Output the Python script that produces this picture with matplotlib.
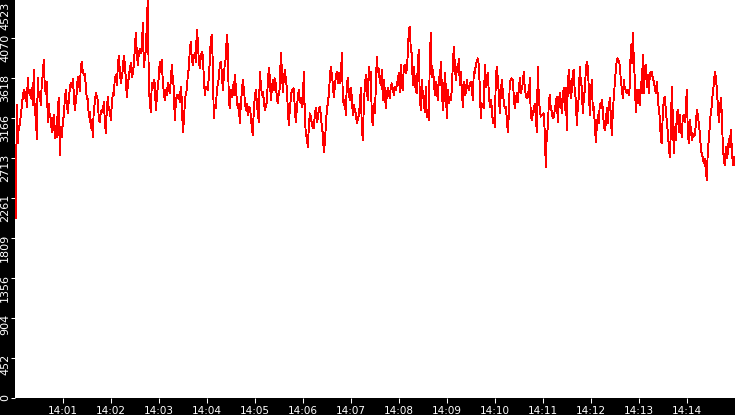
import numpy as np
import pandas as pd
import matplotlib
matplotlib.use("Agg")
import matplotlib.pyplot as plt
import matplotlib.dates as mdates
import matplotlib.transforms as mtransforms

# ---- data (one sample every 1.25 s from 14:00:01) ----
seg1 = [2032, 3312, 2879, 3068, 3086, 3199, 3301, 3407, 3482, 3388,
        3463, 3294, 3625, 3445, 3482, 3388, 3501, 3312, 3708, 3199,
        3199, 2924, 3625, 3407, 3426, 3312, 3558, 3663, 3822, 3520,
        3437, 3576, 3124, 3324, 3181, 3162, 3011, 3124, 3199, 2935,
        3075, 2947, 3301, 3388, 2747, 3068, 2955, 3113, 3199, 3369,
        3482, 3331, 3226, 3369, 3501, 3565, 3512, 3603, 3445, 3256,
        3350, 3463, 3633, 3565, 3475, 3746, 3803, 3689, 3652, 3663,
        3539, 3377, 3388, 3181, 3237, 3049, 3150, 2955, 3275, 3331,
        3452, 3414, 3369, 3150, 3124, 3226, 3256, 3237, 3350, 3143,
        2992, 3256, 3407, 3256, 3256, 3143, 3312, 3445, 3426, 3614,
        3652, 3539, 3746, 3867, 3708, 3558, 3625, 3708, 3867, 3784,
        3614, 3407, 3527, 3633, 3727, 3784, 3625, 3671, 3765, 3935,
        4123, 3916, 3765, 3897, 3953]
seg2 = [3897, 3935, 4236, 3746, 3840, 3935, 4236, 4510, 3558, 3331,
        3237, 3558, 3501, 3595, 3558, 3256, 3388, 3520, 3633, 3803,
        3689, 3822, 3576, 3463, 3369, 3482, 3426, 3558, 3512, 3445,
        3595, 3765, 3614, 3501, 3143, 3331, 3426, 3388, 3426, 3350,
        3520, 3369, 3011, 3113, 3331, 3445, 3482, 3652, 3727, 3935,
        4029, 3840, 3765, 3859, 3897, 3803, 4161, 4048, 3822, 3727,
        3859, 3916, 3878, 3633, 3426, 3520, 3501, 3482, 3633, 3803,
        4066, 4104, 3784, 3162, 3312, 3275, 3463, 3558, 3614, 3765,
        3803, 3689, 3482, 3633, 3784, 3840, 4104, 3972, 3369, 3275,
        3482, 3407, 3539, 3426, 3652, 3520, 3369, 3275, 3331, 3105,
        3312, 3463, 3595, 3501, 3369, 3256, 3331, 3199, 3294, 3275,
        3199, 3049, 2973, 3256, 3407, 3482, 3350, 3218, 3124, 3689]
seg3 = [3558, 3426, 3463, 3369, 3256, 3294, 3350, 3558, 3727, 3633,
        3369, 3482, 3595, 3482, 3614, 3558, 3407, 3331, 3445, 3501,
        3897, 3727, 3463, 3595, 3708, 3614, 3501, 3275, 3086, 3256,
        3388, 3482, 3490, 3501, 3275, 3124, 3256, 3407, 3482, 3350,
        3388, 3294, 3331, 3689, 3218, 2973, 2955, 2841, 3049, 3218,
        3181, 3105, 3049, 3049, 3199, 3275, 3124, 3162, 3256, 3294,
        3199, 3068, 2992, 2785, 2879, 3068, 3256, 3331, 3426, 3614,
        3746, 3652, 3558, 3407, 3520, 3633, 3689, 3558, 3671, 3558,
        3614, 3897, 3407, 3312, 3369, 3199, 3539, 3614, 3463, 3369,
        3501, 3407, 3199, 3312, 3256, 3218, 3105, 3143, 3199, 3312,
        3501, 3068, 2917, 3294, 3520, 3652, 3482, 3369, 3746, 3595,
        3689, 3181, 3086, 3331, 3218, 3501, 3859, 3689, 3727, 3576]
seg4 = [3539, 3708, 3369, 3595, 3482, 3275, 3426, 3501, 3445, 3388,
        3520, 3558, 3501, 3426, 3520, 3482, 3539, 3595, 3671, 3463,
        3765, 3539, 3482, 3746, 3765, 3671, 3708, 3897, 4161, 4198,
        3935, 3897, 3539, 3746, 3614, 3463, 3445, 3784, 3935, 3388,
        3256, 3595, 3445, 3350, 3237, 3520, 3181, 3256, 3143, 3822,
        4123, 3633, 3708, 3614, 3426, 3576, 3482, 3369, 3633, 3539,
        3803, 3539, 3256, 3388, 3671, 3520, 3162, 3482, 3331, 3407,
        3369, 3482, 3765, 3972, 3784, 3595, 3746, 3689, 3840, 3539,
        3689, 3482, 3294, 3576, 3426, 3445, 3595, 3520, 3482, 3558,
        3576, 3501, 3369, 3689, 3671, 3765, 3803, 3840, 3765, 3520,
        3162, 3331, 3294, 3275, 3765, 3520, 3633, 3671, 3463, 3294,
        3369, 3294, 3105, 3162, 3068, 3614, 3746, 3614, 3445, 3218]
seg5 = [3445, 3595, 3463, 3350, 3275, 3294, 3162, 3011, 3199, 3576,
        3595, 3614, 3595, 3407, 3275, 3369, 3445, 3350, 3482, 3614,
        3445, 3501, 3558, 3689, 3501, 3426, 3388, 3463, 3407, 3614,
        3181, 3143, 3218, 3275, 3331, 3162, 3011, 3746, 3407, 3256,
        3181, 3199, 3199, 3218, 2992, 2616, 2992, 3049, 3331, 3426,
        3275, 3237, 3162, 3181, 3256, 3331, 3407, 3124, 3331, 3445,
        3369, 3218, 3426, 3501, 3256, 3501, 3030, 3539, 3708, 3558,
        3388, 3482, 3689, 3708, 3445, 3388, 3086, 3294, 3407, 3746,
        3576, 3520, 3218, 3388, 3482, 3708, 3803, 3746, 3501, 3199,
        3445, 3595, 3256, 3294, 3105, 2898, 3068, 3199, 3105, 3331,
        3275, 3369, 3275, 3086, 3030, 3105, 3275, 3105, 3294, 3388,
        3199, 2973, 3218, 3407, 3558, 3708, 3822, 3840, 3803, 3765]
seg6 = [3595, 3501, 3388, 3595, 3501, 3482, 3445, 3482, 3426, 3520,
        3991, 3784, 4123, 3840, 3595, 3237, 3482, 3331, 3482, 3312,
        3576, 3445, 3878, 3445, 3746, 3765, 3520, 3652, 3445, 3652,
        3689, 3689, 3614, 3576, 3520, 3445, 3576, 3407, 3256, 3181,
        2917, 2879, 3218, 3369, 3407, 3256, 3124, 3011, 2841, 2729,
        2992, 3520, 3181, 2766, 3068, 2917, 3199, 3256, 3011, 3199,
        3049, 2955, 3181, 3199, 3124, 3256, 3482, 3011, 2879, 3143,
        3049, 2917, 2992, 2955, 2973, 3086, 3256, 3199, 3105, 2992,
        2841, 2747, 2729, 2653, 2709, 2577, 2465, 2804, 2917, 3086,
        3237, 3294, 3463, 3539, 3689, 3633, 3501, 3312, 3124, 3256,
        3388, 3218, 2860, 2691, 2634, 2841, 2709, 2766, 2935, 2841,
        3030, 2823, 2634, 2729, 2634]

axis_start = "2024-01-01 14:00:00"
first_sample = "2024-01-01 14:00:01"
axis_end = "2024-01-01 14:15:00"
sample_step = "1250ms"
y_max = 4523
x_tick_minutes = list(range(1, 15))

values = np.array(seg1 + seg2 + seg3 + seg4 + seg5 + seg6, dtype=float)
times = pd.date_range(first_sample, periods=len(values), freq=sample_step)

# ---- figure ----
W, H = 735, 415
DPI = 100
fig = plt.figure(figsize=(W / DPI, H / DPI), dpi=DPI, facecolor="black")
ax = fig.add_axes([15 / W, 17 / H, 720 / W, 400 / H])
ax.set_facecolor("white")

ax.plot(times, values, color="#ff0000", lw=0.65, antialiased=False)

ax.set_xlim(pd.Timestamp(axis_start), pd.Timestamp(axis_end))
ax.set_ylim(0, y_max)

for s in ax.spines.values():
    s.set_visible(False)

yticks = np.linspace(0, y_max, 11)
ax.set_yticks(yticks)
ax.set_yticklabels([str(int(t)) for t in yticks])

ax.xaxis.set_major_locator(mdates.MinuteLocator(byminute=x_tick_minutes))
ax.xaxis.set_major_formatter(mdates.DateFormatter("%H:%M"))

ax.tick_params(axis="x", colors="white", labelcolor="white", length=3.6,
               width=0.75, pad=2.0, labelsize=7.5)
ax.tick_params(axis="y", colors="white", labelcolor="white", length=2.9,
               width=0.75, pad=0.6, labelsize=8, labelrotation=90)

up = mtransforms.ScaledTranslation(0, 4 / DPI, fig.dpi_scale_trans)
down = mtransforms.ScaledTranslation(0, -4 / DPI, fig.dpi_scale_trans)
ylabels = ax.get_yticklabels()
for i, lbl in enumerate(ylabels):
    lbl.set_va("top")
    lbl.set_ha("right")
    lbl.set_transform(lbl.get_transform() + (down if i == len(ylabels) - 1 else up))

fig.savefig("out.png", dpi=DPI, facecolor="black")
